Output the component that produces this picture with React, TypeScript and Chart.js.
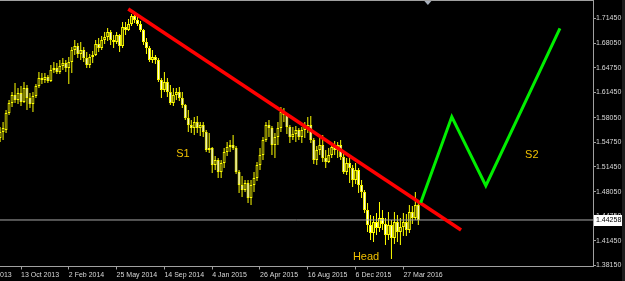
import React, { useEffect, useRef } from 'react';
import { Chart, registerables } from 'chart.js';

Chart.register(...registerables);

// ---- Weekly GBP/USD candles (week index 0 = 23 Jun 2013) ----
const FIRST_WEEK = 9;

const opens = [
  1.5532, 1.5613, 1.5640, 1.5868, 1.6003, 1.6111, 1.6044, 1.6138, 1.6017, 1.6206,
  1.6071, 1.5990, 1.6098, 1.6233, 1.6340, 1.6314, 1.6354, 1.6300, 1.6448, 1.6475,
  1.6421, 1.6502, 1.6543, 1.6475, 1.6556, 1.6718, 1.6772, 1.6664, 1.6718, 1.6610,
  1.6516, 1.6623, 1.6650, 1.6799, 1.6745, 1.6853, 1.6893, 1.6961, 1.6853, 1.6826,
  1.6920, 1.6772, 1.7028, 1.6988, 1.7068, 1.7176, 1.7122, 1.7068, 1.6988, 1.6826,
  1.6745, 1.6583, 1.6623, 1.6583, 1.6314, 1.6179, 1.6287, 1.6152, 1.6003, 1.6111,
  1.6152, 1.6071, 1.5976, 1.5801, 1.5707, 1.5666, 1.5747, 1.5666, 1.5707, 1.5613,
  1.5370, 1.5397, 1.5167, 1.5235, 1.5073, 1.5194, 1.5343, 1.5410, 1.5437, 1.5397,
  1.5073, 1.4898, 1.4831, 1.4925, 1.4723, 1.4898, 1.4992, 1.5167, 1.5302, 1.5505,
  1.5707, 1.5666, 1.5437, 1.5545, 1.5666, 1.5882, 1.5841, 1.5680, 1.5545, 1.5586,
  1.5640, 1.5545, 1.5640, 1.5693, 1.5707, 1.5505, 1.5235, 1.5370, 1.5437, 1.5262,
  1.5208, 1.5302, 1.5410, 1.5370, 1.5437, 1.5275, 1.5073, 1.5194, 1.5127, 1.4966,
  1.5100, 1.4898, 1.4804, 1.4561, 1.4359, 1.4251, 1.4399, 1.4318, 1.4453, 1.4372,
  1.4224, 1.4359, 1.4184, 1.4399, 1.4265, 1.4332, 1.4399, 1.4292, 1.4534, 1.4453,
  1.4628,
];

const highs = [
  1.5680, 1.5747, 1.5909, 1.6044, 1.6152, 1.6273, 1.6206, 1.6233, 1.6287, 1.6246,
  1.6138, 1.6152, 1.6260, 1.6421, 1.6408, 1.6408, 1.6381, 1.6516, 1.6556, 1.6543,
  1.6583, 1.6610, 1.6583, 1.6623, 1.6758, 1.6853, 1.6812, 1.6826, 1.6758, 1.6691,
  1.6664, 1.6704, 1.6853, 1.6880, 1.6907, 1.6961, 1.7014, 1.6988, 1.6920, 1.6961,
  1.6934, 1.7095, 1.7095, 1.7136, 1.7203, 1.7217, 1.7176, 1.7109, 1.7001, 1.6880,
  1.6772, 1.6718, 1.6650, 1.6610, 1.6340, 1.6421, 1.6340, 1.6246, 1.6206, 1.6206,
  1.6219, 1.6152, 1.5990, 1.5909, 1.5774, 1.5814, 1.5828, 1.5747, 1.5747, 1.5640,
  1.5599, 1.5410, 1.5289, 1.5262, 1.5235, 1.5397, 1.5478, 1.5505, 1.5572, 1.5424,
  1.5100, 1.5019, 1.4966, 1.4966, 1.4966, 1.5073, 1.5208, 1.5397, 1.5545, 1.5747,
  1.5774, 1.5693, 1.5599, 1.5747, 1.5949, 1.5936, 1.5868, 1.5707, 1.5680, 1.5693,
  1.5666, 1.5680, 1.5747, 1.5814, 1.5828, 1.5532, 1.5424, 1.5532, 1.5572, 1.5370,
  1.5397, 1.5464, 1.5491, 1.5478, 1.5505, 1.5329, 1.5262, 1.5262, 1.5167, 1.5194,
  1.5127, 1.4966, 1.4831, 1.4655, 1.4494, 1.4480, 1.4521, 1.4669, 1.4561, 1.4453,
  1.4534, 1.4426, 1.4534, 1.4494, 1.4453, 1.4521, 1.4507, 1.4628, 1.4615, 1.4804,
  1.4655,
];

const lows = [
  1.5478, 1.5505, 1.5599, 1.5841, 1.5949, 1.6003, 1.5990, 1.5963, 1.6003, 1.5909,
  1.5936, 1.5882, 1.6071, 1.6206, 1.6260, 1.6273, 1.6273, 1.6287, 1.6408, 1.6394,
  1.6394, 1.6448, 1.6421, 1.6260, 1.6408, 1.6650, 1.6610, 1.6583, 1.6556, 1.6475,
  1.6475, 1.6543, 1.6637, 1.6691, 1.6718, 1.6799, 1.6839, 1.6785, 1.6745, 1.6799,
  1.6691, 1.6745, 1.6920, 1.6974, 1.7041, 1.7082, 1.7041, 1.6961, 1.6785, 1.6664,
  1.6556, 1.6543, 1.6529, 1.6287, 1.6071, 1.6152, 1.6084, 1.5976, 1.5963, 1.6044,
  1.6030, 1.5936, 1.5774, 1.5613, 1.5599, 1.5572, 1.5599, 1.5559, 1.5545, 1.5343,
  1.5329, 1.5059, 1.5100, 1.4992, 1.4992, 1.5127, 1.5289, 1.5343, 1.5370, 1.5046,
  1.4790, 1.4736, 1.4804, 1.4655, 1.4628, 1.4804, 1.4952, 1.5100, 1.5235, 1.5478,
  1.5545, 1.5302, 1.5262, 1.5437, 1.5613, 1.5747, 1.5586, 1.5464, 1.5505, 1.5478,
  1.5505, 1.5464, 1.5532, 1.5599, 1.5464, 1.5181, 1.5167, 1.5302, 1.5208, 1.5127,
  1.5194, 1.5262, 1.5302, 1.5262, 1.5235, 1.5046, 1.5032, 1.4925, 1.4871, 1.4912,
  1.4790, 1.4723, 1.4521, 1.4265, 1.4157, 1.4130, 1.4224, 1.4265, 1.4292, 1.4090,
  1.4157, 1.3901, 1.4103, 1.4130, 1.4090, 1.4211, 1.4211, 1.4251, 1.4372, 1.4426,
  1.4359,
];

const closes = [
  1.5613, 1.5666, 1.5868, 1.6003, 1.6111, 1.6044, 1.6138, 1.6017, 1.6206, 1.6071,
  1.5990, 1.6098, 1.6233, 1.6340, 1.6314, 1.6354, 1.6300, 1.6448, 1.6475, 1.6421,
  1.6502, 1.6543, 1.6475, 1.6556, 1.6718, 1.6772, 1.6664, 1.6718, 1.6610, 1.6516,
  1.6623, 1.6650, 1.6799, 1.6745, 1.6853, 1.6893, 1.6961, 1.6853, 1.6826, 1.6920,
  1.6772, 1.7028, 1.6988, 1.7068, 1.7176, 1.7122, 1.7068, 1.6988, 1.6826, 1.6745,
  1.6583, 1.6623, 1.6583, 1.6314, 1.6179, 1.6287, 1.6152, 1.6003, 1.6111, 1.6152,
  1.6071, 1.5976, 1.5801, 1.5707, 1.5666, 1.5747, 1.5666, 1.5707, 1.5613, 1.5370,
  1.5397, 1.5167, 1.5235, 1.5073, 1.5194, 1.5343, 1.5410, 1.5437, 1.5397, 1.5073,
  1.4898, 1.4831, 1.4925, 1.4723, 1.4898, 1.4992, 1.5167, 1.5302, 1.5505, 1.5707,
  1.5666, 1.5437, 1.5545, 1.5666, 1.5882, 1.5841, 1.5680, 1.5545, 1.5586, 1.5640,
  1.5545, 1.5640, 1.5693, 1.5707, 1.5505, 1.5235, 1.5370, 1.5437, 1.5262, 1.5208,
  1.5302, 1.5410, 1.5370, 1.5437, 1.5275, 1.5073, 1.5194, 1.5127, 1.4966, 1.5100,
  1.4898, 1.4804, 1.4561, 1.4359, 1.4251, 1.4399, 1.4318, 1.4453, 1.4372, 1.4224,
  1.4359, 1.4184, 1.4399, 1.4265, 1.4332, 1.4399, 1.4292, 1.4534, 1.4453, 1.4628,
  1.44258,
];

// ---- Axes ----
const tickWeeks = [0, 16, 32, 48, 64, 80, 96, 112, 128, 144];
const tickLabels = [
  '23 Jun 2013', '13 Oct 2013', '2 Feb 2014', '25 May 2014', '14 Sep 2014',
  '4 Jan 2015', '26 Apr 2015', '16 Aug 2015', '6 Dec 2015', '27 Mar 2016',
];
const priceTicks = [
  1.7145, 1.6805, 1.6475, 1.6145, 1.5805, 1.5475, 1.5145, 1.4805, 1.4475, 1.4145, 1.3815,
];
const X_MIN = 8.97;
const X_MAX = 207.47;
const Y_MIN = 1.37988;
const Y_MAX = 1.73783;
const lastPrice = 1.44258;
const shiftWeek = 152.2;

// ---- Drawings ----
const trendWeeks = [51.9, 163.3];
const trendPrices = [1.727, 1.4291];
const zigzagWeeks = [149.8, 160.2, 171.6, 196.4];
const zigzagPrices = [1.4659, 1.5818, 1.4888, 1.701];
const noteTexts = ['S1', 'Head', 'S2'];
const noteWeeks = [70.2, 131.5, 187.0];
const notePrices = [1.5316, 1.3928, 1.5303];

const FONT = '"Liberation Sans", Arial, sans-serif';
const CANDLE = '#ffff00';
const BULL_FILL = '#4a4a00';
const BEAR_FILL = '#fffff0';
const NOTE_COLOR = '#f0c000';
const FRAME = '#a0a0a0';
const AXIS_TEXT = '#d8d8d8';

export default function App() {
  const ref = useRef<HTMLCanvasElement>(null);

  useEffect(() => {
    document.body.style.margin = '0';
    document.body.style.background = '#000';
    const weeks = closes.map((_, k) => FIRST_WEEK + k);
    const bodies = weeks.map((w, k) => ({
      x: w,
      y: [Math.min(opens[k], closes[k]), Math.max(opens[k], closes[k])],
    }));
    const fills = weeks.map((_, k) => (closes[k] >= opens[k] ? BULL_FILL : BEAR_FILL));
    const wicks = weeks.map((w, k) => ({ x: w, y: [lows[k], highs[k]] }));

    const decor = {
      id: 'decor',
      afterDatasetsDraw(chart: any) {
        const { ctx, scales } = chart;
        const x = scales.x;
        const y = scales.y;
        ctx.save();
        ctx.font = `11px ${FONT}`;
        ctx.fillStyle = NOTE_COLOR;
        ctx.textAlign = 'center';
        ctx.textBaseline = 'middle';
        noteTexts.forEach((t, k) => {
          ctx.fillText(t, x.getPixelForValue(noteWeeks[k]), y.getPixelForValue(notePrices[k]));
        });
        ctx.restore();
      },
      afterDraw(chart: any) {
        const { ctx, chartArea, scales } = chart;
        const x = scales.x;
        const y = scales.y;
        ctx.save();
        // top frame line
        ctx.fillStyle = FRAME;
        ctx.fillRect(0, chartArea.top - 1, chartArea.right + 1, 1);
        // current price box
        const py = y.getPixelForValue(lastPrice);
        ctx.fillStyle = '#ffffff';
        ctx.fillRect(chartArea.right + 1, Math.round(py) - 5, 28, 11);
        ctx.fillStyle = '#000000';
        ctx.font = `7px ${FONT}`;
        ctx.textAlign = 'left';
        ctx.textBaseline = 'middle';
        ctx.fillText(lastPrice.toFixed(5), chartArea.right + 3, py + 0.5);
        // chart shift marker
        const sx = x.getPixelForValue(shiftWeek);
        ctx.fillStyle = '#a8b0bc';
        ctx.beginPath();
        ctx.moveTo(sx - 3.5, chartArea.top);
        ctx.lineTo(sx + 3.5, chartArea.top);
        ctx.lineTo(sx, chartArea.top + 4);
        ctx.closePath();
        ctx.fill();
        // window edge
        ctx.fillStyle = '#1c1c1c';
        ctx.fillRect(622, 0, 3, 281);
        ctx.restore();
      },
    };

    const chart = new Chart(ref.current as HTMLCanvasElement, {
      type: 'bar',
      data: {
        datasets: [
          {
            type: 'line',
            data: zigzagWeeks.map((w, k) => ({ x: w, y: zigzagPrices[k] })),
            borderColor: '#00ee00',
            borderWidth: 3,
            pointRadius: 0,
            tension: 0,
            order: 0,
          } as any,
          {
            type: 'line',
            data: trendWeeks.map((w, k) => ({ x: w, y: trendPrices[k] })),
            borderColor: '#ff0000',
            borderWidth: 3.5,
            pointRadius: 0,
            tension: 0,
            order: 1,
          } as any,
          {
            type: 'line',
            data: [
              { x: X_MIN, y: lastPrice },
              { x: X_MAX, y: lastPrice },
            ],
            borderColor: '#a8a8a8',
            borderWidth: 1,
            pointRadius: 0,
            order: 2,
          } as any,
          {
            type: 'bar',
            data: bodies,
            backgroundColor: fills,
            borderColor: CANDLE,
            borderWidth: 1,
            borderSkipped: false,
            barThickness: 3,
            grouped: false,
            inflateAmount: 0,
            order: 3,
          } as any,
          {
            type: 'bar',
            data: wicks,
            backgroundColor: CANDLE,
            borderWidth: 0,
            barThickness: 1,
            grouped: false,
            inflateAmount: 0,
            order: 4,
          } as any,
        ],
      },
      options: {
        responsive: false,
        animation: false,
        events: [],
        layout: { padding: { top: 1, left: 0, right: 0, bottom: 0 } },
        plugins: { legend: { display: false }, tooltip: { enabled: false } },
        scales: {
          x: {
            type: 'linear',
            position: 'bottom',
            min: X_MIN,
            max: X_MAX,
            offset: false,
            afterBuildTicks: (s: any) => {
              s.ticks = tickWeeks.map((v) => ({ value: v }));
            },
            afterFit: (s: any) => {
              s.height = 14.5;
              s.paddingLeft = 0;
              s.paddingRight = 0;
            },
            grid: {
              display: true,
              drawOnChartArea: false,
              drawTicks: true,
              tickLength: 3,
              color: FRAME,
              offset: false,
            },
            border: { display: true, color: FRAME },
            ticks: {
              autoSkip: false,
              maxRotation: 0,
              minRotation: 0,
              align: 'start',
              padding: 1,
              color: AXIS_TEXT,
              font: { family: FONT, size: 7 },
              callback: (v: any) => {
                const k = tickWeeks.indexOf(Number(v));
                return k >= 0 ? tickLabels[k] : '';
              },
            },
          },
          y: {
            type: 'linear',
            position: 'right',
            min: Y_MIN,
            max: Y_MAX,
            afterBuildTicks: (s: any) => {
              s.ticks = priceTicks.map((v) => ({ value: v }));
            },
            afterFit: (s: any) => {
              s.width = 32;
              s.paddingTop = 0;
              s.paddingBottom = 0;
            },
            grid: {
              display: true,
              drawOnChartArea: false,
              drawTicks: true,
              tickLength: 3,
              color: FRAME,
            },
            border: { display: true, color: FRAME },
            ticks: {
              padding: 0,
              crossAlign: 'near',
              color: AXIS_TEXT,
              font: { family: FONT, size: 7 },
              callback: (v: any) => Number(v).toFixed(5),
            },
          },
        },
      } as any,
      plugins: [decor],
    });

    return () => chart.destroy();
  }, []);

  return (
    <div style={{ position: 'fixed', left: 0, top: 0, width: 625, height: 281, background: '#000' }}>
      <canvas ref={ref} width={625} height={281} style={{ display: 'block' }} />
    </div>
  );
}
